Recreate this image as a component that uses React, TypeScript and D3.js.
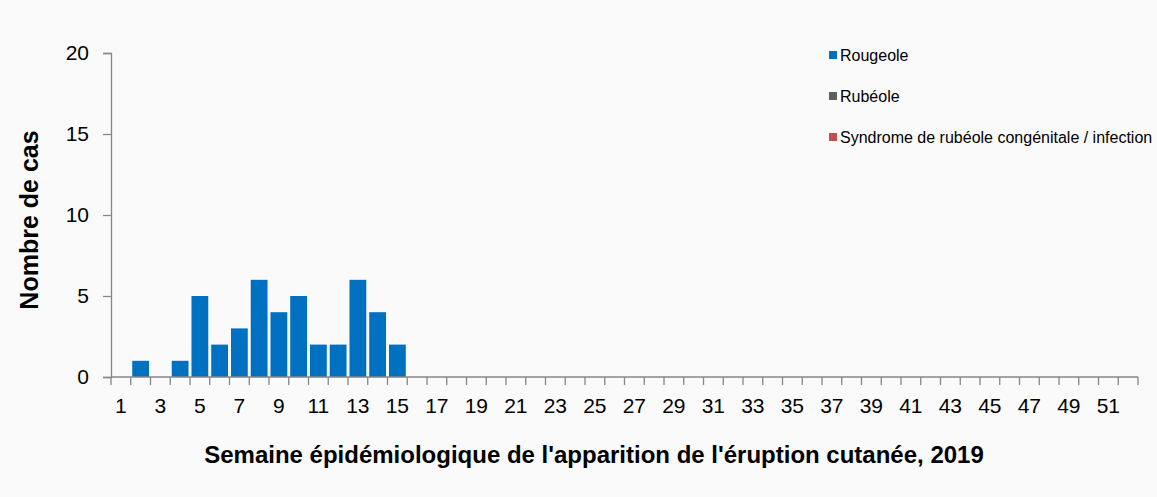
import React, { useEffect, useRef } from "react";
import * as d3 from "d3";

const weeks: number[] = d3.range(1, 53);
const rougeole: number[] = [
  0, 1, 0, 1, 5, 2, 3, 6, 4, 5, 2, 2, 6, 4, 2,
  0, 0, 0, 0, 0, 0, 0, 0, 0, 0, 0, 0, 0, 0, 0,
  0, 0, 0, 0, 0, 0, 0, 0, 0, 0, 0, 0, 0, 0, 0,
  0, 0, 0, 0, 0, 0, 0,
];
const yTicks: number[] = [0, 5, 10, 15, 20];
const legendNames: string[] = ["Rougeole", "Rubéole", "Syndrome de rubéole congénitale / infection"];
const legendColors: string[] = ["#0070c0", "#606060", "#c0504d"];

const FONT = "'Liberation Sans', Arial, sans-serif";

const App: React.FC = () => {
  const ref = useRef<SVGSVGElement>(null);

  useEffect(() => {
    if (!ref.current) return;
    const svg = d3.select(ref.current);
    svg.selectAll("*").remove();

    const width = 1157;
    const height = 497;
    svg.attr("width", width).attr("height", height);

    svg.append("rect").attr("width", width).attr("height", height).attr("fill", "#fafafa");

    const left = 111, right = 1138, top = 53, bottom = 377;
    const x = d3.scaleBand<number>().domain(weeks).range([left, right]).paddingInner(0.15).paddingOuter(0.075);
    const xEdges = d3.scaleLinear().domain([0, weeks.length]).range([left, right]);
    const y = d3.scaleLinear().domain([0, 20]).range([bottom, top]);
    const axisColor = "#868686";

    // bars
    svg.append("g")
      .selectAll("rect")
      .data(rougeole.map((v, i) => ({ week: weeks[i], v })).filter((d) => d.v > 0))
      .enter().append("rect")
      .attr("x", (d) => x(d.week) ?? 0)
      .attr("y", (d) => y(d.v))
      .attr("width", x.bandwidth())
      .attr("height", (d) => y(0) - y(d.v))
      .attr("fill", legendColors[0]);

    // y axis
    const gy = svg.append("g").attr("transform", `translate(${left},0)`)
      .call(d3.axisLeft(y).tickValues(yTicks).tickSize(8).tickPadding(14));
    gy.select(".domain").attr("stroke", axisColor).attr("stroke-width", 1.3);
    gy.selectAll(".tick line").attr("stroke", axisColor).attr("stroke-width", 1.3);
    gy.selectAll(".tick text").attr("font-family", FONT).attr("font-size", 21).attr("fill", "#000");

    // x axis: boundary ticks
    const gx = svg.append("g").attr("transform", `translate(0,${bottom})`);
    gx.append("line").attr("x1", left).attr("x2", right).attr("stroke", axisColor).attr("stroke-width", 1.3);
    gx.selectAll(".edge")
      .data(d3.range(0, weeks.length + 1))
      .enter().append("line")
      .attr("x1", (d) => xEdges(d)).attr("x2", (d) => xEdges(d))
      .attr("y1", 0).attr("y2", 8)
      .attr("stroke", axisColor).attr("stroke-width", 1.3);
    gx.selectAll(".lbl")
      .data(weeks.filter((w) => w % 2 === 1))
      .enter().append("text")
      .attr("x", (d) => (x(d) ?? 0) + x.bandwidth() / 2)
      .attr("y", 36)
      .attr("text-anchor", "middle")
      .attr("font-family", FONT).attr("font-size", 21)
      .text((d) => d);

    // axis titles
    svg.append("text")
      .attr("transform", `translate(38,220) rotate(-90)`)
      .attr("text-anchor", "middle")
      .attr("font-family", FONT).attr("font-size", 25).attr("font-weight", "bold")
      .text("Nombre de cas");
    svg.append("text")
      .attr("x", 594).attr("y", 463)
      .attr("text-anchor", "middle")
      .attr("font-family", FONT).attr("font-size", 24).attr("font-weight", "bold")
      .text("Semaine épidémiologique de l'apparition de l'éruption cutanée, 2019");

    // legend
    const lg = svg.append("g").selectAll("g")
      .data(legendNames)
      .enter().append("g")
      .attr("transform", (_d, i) => `translate(829,${55 + i * 41})`);
    lg.append("rect").attr("x", 0).attr("y", -4).attr("width", 8).attr("height", 8)
      .attr("fill", (_d, i) => legendColors[i]);
    lg.append("text").attr("x", 11).attr("y", 5.5)
      .attr("font-family", FONT).attr("font-size", 16)
      .text((d) => d);
  }, []);

  return <svg ref={ref} style={{ position: "absolute", left: 0, top: 0 }}></svg>;
};

export default App;
